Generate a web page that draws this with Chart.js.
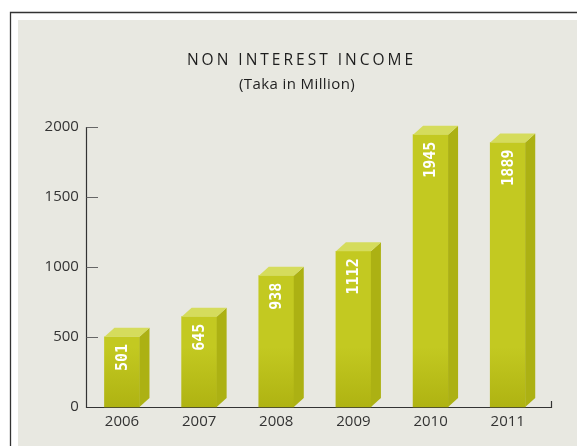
<!DOCTYPE html>
<html>
<head>
<meta charset="utf-8">
<script src="https://cdn.jsdelivr.net/npm/chart.js@4.4.1/dist/chart.umd.min.js"></script>
<style>
  html, body { margin: 0; padding: 0; background: #fff; }
  #wrap { width: 578px; height: 446px; }
</style>
</head>
<body>
<div id="wrap"><canvas id="grafico" width="578" height="446"></canvas></div>
<script>
const years = ['2006', '2007', '2008', '2009', '2010', '2011'];
const income = [501, 645, 938, 1112, 1945, 1889];
const yTicks = [0, 500, 1000, 1500, 2000];
const title = 'NON INTEREST INCOME';
const subtitle = '(Taka in Million)';

const DX = 10, DY = 9;

// panel frame + background
const frame = {
  id: 'frame',
  beforeDraw(chart) {
    const c = chart.ctx;
    c.save();
    c.fillStyle = '#ffffff';
    c.fillRect(0, 0, 578, 446);
    c.strokeStyle = '#333333';
    c.lineWidth = 1.3;
    c.beginPath();
    c.moveTo(10.5, 446);
    c.lineTo(10.5, 12.5);
    c.lineTo(577, 12.5);
    c.stroke();
    c.fillStyle = '#e8e8e1';
    c.fillRect(18, 20, 559, 426);

    c.fillStyle = '#1e1e1e';
    c.textAlign = 'center';
    c.textBaseline = 'middle';
    c.font = '15.5px "Open Sans"';
    c.letterSpacing = '3px';
    c.fillText(title, 301.5, 61);
    c.letterSpacing = '0.4px';
    c.font = '15px "Open Sans"';
    c.fillText(subtitle, 297, 85);
    c.restore();
  }
};

// axis lines with inward ticks
const axes = {
  id: 'axes',
  beforeDatasetsDraw(chart) {
    const c = chart.ctx;
    const y = chart.scales.y;
    const top = y.getPixelForValue(2000);
    const bottom = y.getPixelForValue(0);
    c.save();
    c.strokeStyle = '#333333';
    c.lineWidth = 1.2;
    c.beginPath();
    c.moveTo(86.5, top);
    c.lineTo(86.5, bottom + 0.5);
    c.lineTo(551.5, bottom + 0.5);
    c.lineTo(551.5, bottom - 6);
    c.stroke();
    c.strokeStyle = '#666666';
    c.beginPath();
    yTicks.forEach(v => {
      if (v === 0) return;
      const py = Math.round(y.getPixelForValue(v)) + 0.5;
      c.moveTo(86.5, py);
      c.lineTo(98, py);
    });
    c.stroke();
    c.restore();
  }
};

// side and top faces plus rotated value labels
const boxes = {
  id: 'boxes',
  afterDatasetsDraw(chart) {
    const c = chart.ctx;
    const meta = chart.getDatasetMeta(0);
    c.save();
    meta.data.forEach((bar, i) => {
      const l = bar.x - bar.width / 2;
      const r = bar.x + bar.width / 2;
      const t = bar.y, b = bar.base;

      c.fillStyle = '#acb113';
      c.beginPath();
      c.moveTo(r, t);
      c.lineTo(r + DX, t - DY);
      c.lineTo(r + DX, b - DY);
      c.lineTo(r, b);
      c.closePath();
      c.fill();

      c.fillStyle = '#d5dc5c';
      c.beginPath();
      c.moveTo(l, t);
      c.lineTo(l + DX, t - DY);
      c.lineTo(r + DX, t - DY);
      c.lineTo(r, t);
      c.closePath();
      c.fill();

      c.save();
      c.translate(bar.x + 1, t + 7);
      c.rotate(-Math.PI / 2);
      c.fillStyle = '#ffffff';
      c.font = 'bold 15px "DejaVu Sans Mono"';
      c.textAlign = 'right';
      c.textBaseline = 'middle';
      c.fillText(String(income[i]), 0, 0);
      c.restore();
    });
    c.restore();
  }
};

const ctx = document.getElementById('grafico').getContext('2d');

const chart = new Chart(ctx, {
  type: 'bar',
  data: {
    labels: years,
    datasets: [{
      data: income,
      barThickness: 35,
      borderWidth: 0,
      clip: false,
      backgroundColor(context) {
        const area = context.chart.chartArea;
        if (!area) return '#c2c820';
        const g = context.chart.ctx.createLinearGradient(0, area.bottom, 0, area.bottom - 60);
        g.addColorStop(0, '#afb312');
        g.addColorStop(1, '#c3c921');
        return g;
      }
    }]
  },
  options: {
    responsive: false,
    animation: false,
    layout: { padding: { top: 127, right: 31.7, left: 0, bottom: 0 } },
    plugins: { legend: { display: false }, tooltip: { enabled: false } },
    scales: {
      x: {
        offset: true,
        grid: { display: false, drawTicks: false },
        border: { display: false },
        ticks: { color: '#333333', font: { family: 'Open Sans', size: 15 }, padding: 6 },
        afterFit(s) { s.height = 39; }
      },
      y: {
        min: 0,
        max: 2000,
        grid: { display: false, drawTicks: false },
        border: { display: false },
        ticks: {
          stepSize: 500,
          color: '#333333',
          font: { family: 'Open Sans', size: 15 },
          padding: 4.5,
          callback: v => String(v)
        },
        afterFit(s) { s.width = 83.4; }
      }
    }
  },
  plugins: [frame, axes, boxes]
});
</script>
</body>
</html>
